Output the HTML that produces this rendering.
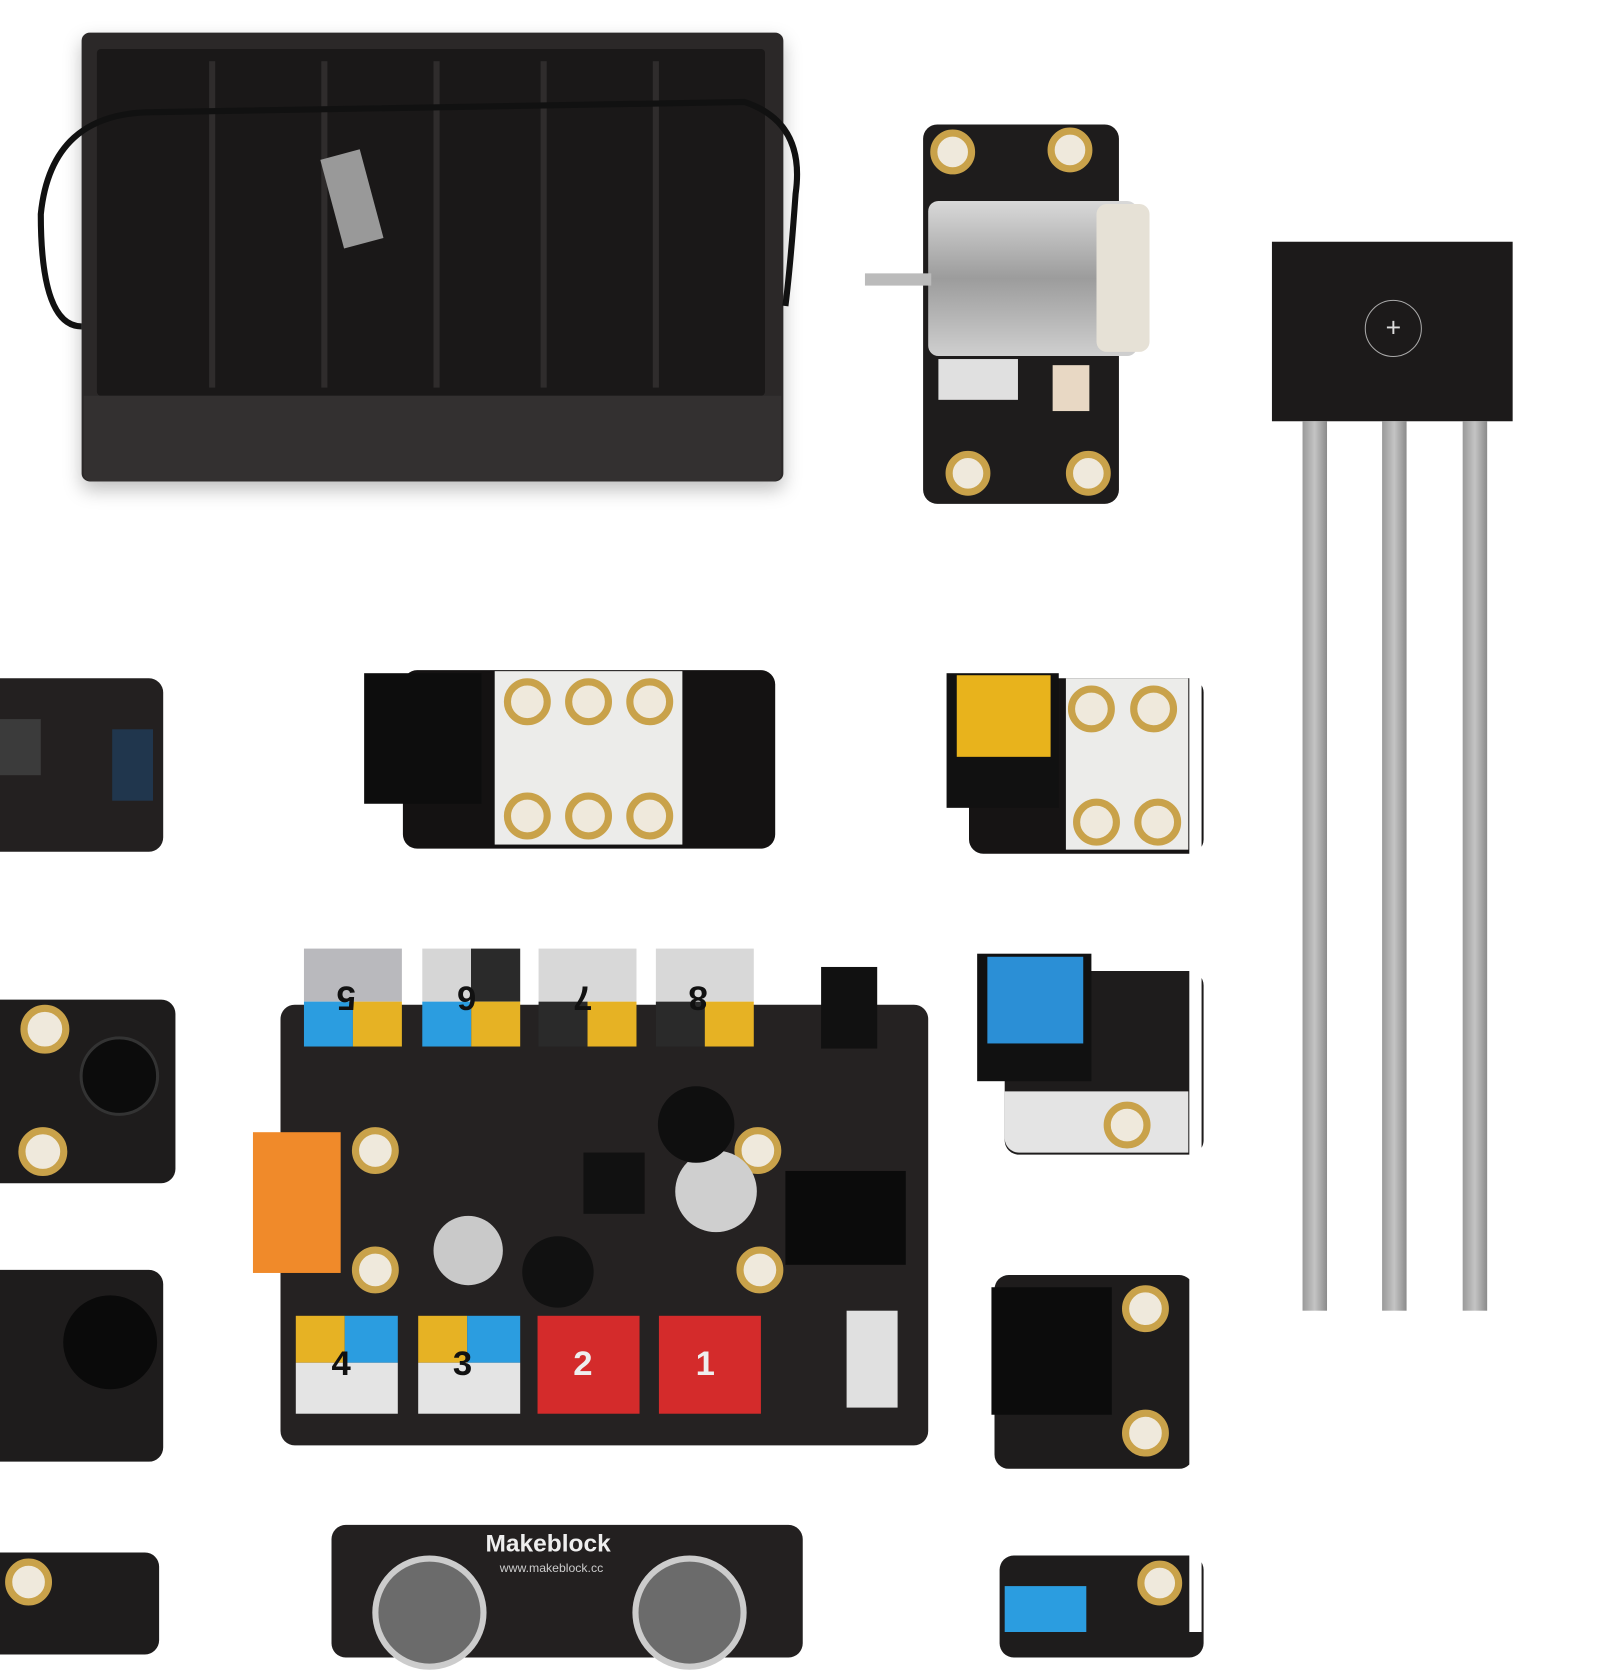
<!DOCTYPE html>
<html><head><meta charset="utf-8"><style>
html,body{margin:0;padding:0;background:#fff;}
body{width:1600px;height:1600px;position:relative;overflow:hidden;font-family:"Liberation Sans",sans-serif;}
#w{position:absolute;left:0;top:0;width:1600px;height:1600px;transform:scale(1.02);transform-origin:0 0;}
.a{position:absolute;}
.pcb{background:#1e1c1c;border-radius:14px;}
.ring{position:absolute;width:40px;height:40px;border-radius:50%;border:7px solid #c9a24a;background:#efe9dc;box-sizing:border-box;}
.key{position:absolute;width:96px;height:96px;}
.num{position:absolute;font:bold 34px "Liberation Sans",sans-serif;color:#111;}
</style></head><body><div id="w">

<div class="a" style="left:80px;top:32px;width:688px;height:440px;background:#2b2828;border-radius:8px;box-shadow:0 8px 18px rgba(0,0,0,.25)"></div>
<div class="a" style="left:95px;top:48px;width:655px;height:340px;background:#1a1818;border-radius:4px"></div>
<div class="a" style="left:82px;top:388px;width:684px;height:84px;background:#333030;border-radius:0 0 8px 8px"></div>
<div class="a" style="left:205px;top:60px;width:6px;height:320px;background:#2f2c2c"></div>
<div class="a" style="left:315px;top:60px;width:6px;height:320px;background:#2f2c2c"></div>
<div class="a" style="left:425px;top:60px;width:6px;height:320px;background:#2f2c2c"></div>
<div class="a" style="left:530px;top:60px;width:6px;height:320px;background:#2f2c2c"></div>
<div class="a" style="left:640px;top:60px;width:6px;height:320px;background:#2f2c2c"></div>
<svg class="a" style="left:30px;top:60px" width="760" height="280"><path d="M120 50 Q20 50 10 150 Q10 260 50 260 M120 50 L700 40 Q760 60 750 130 Q745 200 740 240" stroke="#111" stroke-width="6" fill="none"/>
<rect x="295" y="90" width="40" height="90" fill="#999" transform="rotate(-15 315 135)"/></svg>

<div class="a pcb" style="left:905px;top:122px;width:192px;height:372px"></div>
<div class="ring" style="left:912px;top:127px;width:44px;height:44px"></div>
<div class="ring" style="left:1027px;top:125px;width:44px;height:44px"></div>
<div class="ring" style="left:927px;top:442px;width:44px;height:44px"></div>
<div class="ring" style="left:1045px;top:442px;width:44px;height:44px"></div>
<div class="a" style="left:910px;top:197px;width:205px;height:152px;background:linear-gradient(#d9d9d9,#9c9c9c,#cfcfcf);border-radius:10px"></div>
<div class="a" style="left:1075px;top:200px;width:52px;height:145px;background:#e6e1d6;border-radius:10px"></div>
<div class="a" style="left:848px;top:268px;width:65px;height:12px;background:#bbb"></div>
<div class="a" style="left:920px;top:352px;width:78px;height:40px;background:#e0e0e0"></div>
<div class="a" style="left:1032px;top:358px;width:36px;height:45px;background:#e8d8c4"></div>

<div class="a" style="left:1247px;top:237px;width:236px;height:176px;background:#1c1a1a"></div>
<div class="a" style="left:1338px;top:294px;width:56px;height:56px;border:1.5px solid #aaa;border-radius:50%;box-sizing:border-box;color:#ddd;font-size:26px;line-height:52px;text-align:center">+</div>
<div class="a" style="left:1277px;top:413px;width:24px;height:872px;background:linear-gradient(90deg,#999,#c4c4c4,#8a8a8a)"></div>
<div class="a" style="left:1355px;top:413px;width:24px;height:872px;background:linear-gradient(90deg,#999,#c4c4c4,#8a8a8a)"></div>
<div class="a" style="left:1434px;top:413px;width:24px;height:872px;background:linear-gradient(90deg,#999,#c4c4c4,#8a8a8a)"></div>

<div class="a pcb" style="left:-20px;top:665px;width:180px;height:170px;background:#232020"></div>
<div class="a" style="left:0;top:705px;width:40px;height:55px;background:#3b3b3b"></div>
<div class="a" style="left:110px;top:715px;width:40px;height:70px;background:#1d4c7a;opacity:.5"></div>
<div class="a pcb" style="left:-20px;top:980px;width:192px;height:180px"></div>
<div class="ring" style="left:20px;top:985px;width:48px;height:48px"></div>
<div class="ring" style="left:18px;top:1105px;width:48px;height:48px"></div>
<div class="a" style="left:78px;top:1016px;width:72px;height:72px;border-radius:50%;background:#0c0c0c;border:3px solid #333"></div>
<div class="a pcb" style="left:-20px;top:1245px;width:180px;height:188px"></div>
<div class="a" style="left:62px;top:1270px;width:92px;height:92px;border-radius:50%;background:#0a0a0a"></div>
<div class="a pcb" style="left:-20px;top:1522px;width:176px;height:100px"></div>
<div class="ring" style="left:5px;top:1528px;width:46px;height:46px"></div>

<div class="a pcb" style="left:395px;top:657px;width:365px;height:175px;background:#141212"></div>
<div class="a" style="left:357px;top:660px;width:115px;height:128px;background:#0d0d0d"></div>
<div class="a" style="left:485px;top:658px;width:184px;height:170px;background:#ececea"></div>
<div class="ring" style="left:494px;top:665px;width:46px;height:46px"></div>
<div class="ring" style="left:554px;top:665px;width:46px;height:46px"></div>
<div class="ring" style="left:614px;top:665px;width:46px;height:46px"></div>
<div class="ring" style="left:494px;top:777px;width:46px;height:46px"></div>
<div class="ring" style="left:554px;top:777px;width:46px;height:46px"></div>
<div class="ring" style="left:614px;top:777px;width:46px;height:46px"></div>

<div class="a pcb" style="left:950px;top:665px;width:230px;height:172px;background:#161414"></div>
<div class="a" style="left:928px;top:660px;width:110px;height:132px;background:#111"></div>
<div class="a" style="left:938px;top:662px;width:92px;height:80px;background:#e8b31c"></div>
<div class="a" style="left:1045px;top:665px;width:120px;height:168px;background:#ececea"></div>
<div class="ring" style="left:1047px;top:672px;width:46px;height:46px"></div>
<div class="ring" style="left:1108px;top:672px;width:46px;height:46px"></div>
<div class="ring" style="left:1052px;top:783px;width:46px;height:46px"></div>
<div class="ring" style="left:1112px;top:783px;width:46px;height:46px"></div>

<div class="a pcb" style="left:275px;top:985px;width:635px;height:432px;background:#252222"></div>
<div class="a" style="left:248px;top:1110px;width:86px;height:138px;background:#f08a2a"></div>
<div class="ring" style="left:345px;top:1105px;width:46px;height:46px"></div>
<div class="ring" style="left:345px;top:1222px;width:46px;height:46px"></div>
<div class="ring" style="left:720px;top:1105px;width:46px;height:46px"></div>
<div class="ring" style="left:722px;top:1222px;width:46px;height:46px"></div>
<div class="a" style="left:425px;top:1192px;width:68px;height:68px;border-radius:50%;background:#c9c9c9"></div>
<div class="a" style="left:512px;top:1212px;width:70px;height:70px;border-radius:50%;background:#111"></div>
<div class="a" style="left:662px;top:1128px;width:80px;height:80px;border-radius:50%;background:#cfcfcf"></div>
<div class="a" style="left:645px;top:1065px;width:75px;height:75px;border-radius:50%;background:#0f0f0f"></div>
<div class="a" style="left:572px;top:1130px;width:60px;height:60px;background:#111"></div>
<div class="a" style="left:770px;top:1148px;width:118px;height:92px;background:#0b0b0b"></div>
<div class="a" style="left:805px;top:948px;width:55px;height:80px;background:#111"></div>
<div class="key" style="left:298px;top:930px;height:52px;background:#b9b9bd"></div>
<div class="a" style="left:298px;top:982px;width:48px;height:44px;background:#2b9de0"></div>
<div class="a" style="left:346px;top:982px;width:48px;height:44px;background:#e6b224"></div>
<div class="num" style="left:330px;top:958px;transform:rotate(180deg)">5</div>
<div class="key" style="left:414px;top:930px;background:linear-gradient(90deg,#d6d6d6 50%,#2a2a2a 50%);height:52px"></div>
<div class="a" style="left:414px;top:982px;width:48px;height:44px;background:#2b9de0"></div>
<div class="a" style="left:462px;top:982px;width:48px;height:44px;background:#e6b224"></div>
<div class="num" style="left:448px;top:958px;transform:rotate(180deg)">6</div>
<div class="key" style="left:528px;top:930px;height:52px;background:#d8d8d8"></div>
<div class="a" style="left:528px;top:982px;width:48px;height:44px;background:#2a2a2a"></div>
<div class="a" style="left:576px;top:982px;width:48px;height:44px;background:#e6b224"></div>
<div class="num" style="left:562px;top:958px;transform:rotate(180deg)">7</div>
<div class="key" style="left:643px;top:930px;height:52px;background:#d8d8d8"></div>
<div class="a" style="left:643px;top:982px;width:48px;height:44px;background:#2a2a2a"></div>
<div class="a" style="left:691px;top:982px;width:48px;height:44px;background:#e6b224"></div>
<div class="num" style="left:675px;top:958px;transform:rotate(180deg)">8</div>
<div class="a" style="left:290px;top:1290px;width:48px;height:46px;background:#e6b224"></div>
<div class="a" style="left:338px;top:1290px;width:52px;height:46px;background:#2b9de0"></div>
<div class="a" style="left:290px;top:1336px;width:100px;height:50px;background:#e4e4e4"></div>
<div class="num" style="left:325px;top:1318px">4</div>
<div class="a" style="left:410px;top:1290px;width:48px;height:46px;background:#e6b224"></div>
<div class="a" style="left:458px;top:1290px;width:52px;height:46px;background:#2b9de0"></div>
<div class="a" style="left:410px;top:1336px;width:100px;height:50px;background:#e4e4e4"></div>
<div class="num" style="left:444px;top:1318px">3</div>
<div class="a" style="left:527px;top:1290px;width:100px;height:96px;background:#d42b2b"></div>
<div class="num" style="left:562px;top:1318px;color:#eee">2</div>
<div class="a" style="left:646px;top:1290px;width:100px;height:96px;background:#d42b2b"></div>
<div class="num" style="left:682px;top:1318px;color:#eee">1</div>
<div class="a" style="left:830px;top:1285px;width:50px;height:95px;background:#e0e0e0"></div>

<div class="a pcb" style="left:985px;top:952px;width:195px;height:180px"></div>
<div class="a" style="left:958px;top:935px;width:112px;height:125px;background:#111"></div>
<div class="a" style="left:968px;top:938px;width:94px;height:85px;background:#2b8fd6"></div>
<div class="a" style="left:985px;top:1070px;width:180px;height:60px;background:#e4e4e4;border-radius:0 0 0 14px"></div>
<div class="ring" style="left:1082px;top:1080px;width:46px;height:46px"></div>

<div class="a pcb" style="left:975px;top:1250px;width:195px;height:190px"></div>
<div class="a" style="left:972px;top:1262px;width:118px;height:125px;background:#0c0c0c"></div>
<div class="ring" style="left:1100px;top:1260px;width:46px;height:46px"></div>
<div class="ring" style="left:1100px;top:1382px;width:46px;height:46px"></div>

<div class="a pcb" style="left:325px;top:1495px;width:462px;height:130px;background:#232020"></div>
<div class="a" style="left:365px;top:1525px;width:100px;height:100px;border-radius:50%;background:#6b6b6b;border:6px solid #ccc"></div>
<div class="a" style="left:620px;top:1525px;width:100px;height:100px;border-radius:50%;background:#6b6b6b;border:6px solid #ccc"></div>
<div class="a" style="left:476px;top:1500px;font:bold 24px 'Liberation Sans',sans-serif;color:#eee">Makeblock</div>
<div class="a" style="left:490px;top:1530px;font:12px 'Liberation Sans',sans-serif;color:#ccc">www.makeblock.cc</div>

<div class="a pcb" style="left:980px;top:1525px;width:200px;height:100px"></div>
<div class="a" style="left:985px;top:1555px;width:80px;height:45px;background:#2b9de0"></div>
<div class="ring" style="left:1115px;top:1530px;width:44px;height:44px"></div>

<div class="a" style="left:1166px;top:0;width:12px;height:1600px;background:#fff"></div>
</div></body></html>
